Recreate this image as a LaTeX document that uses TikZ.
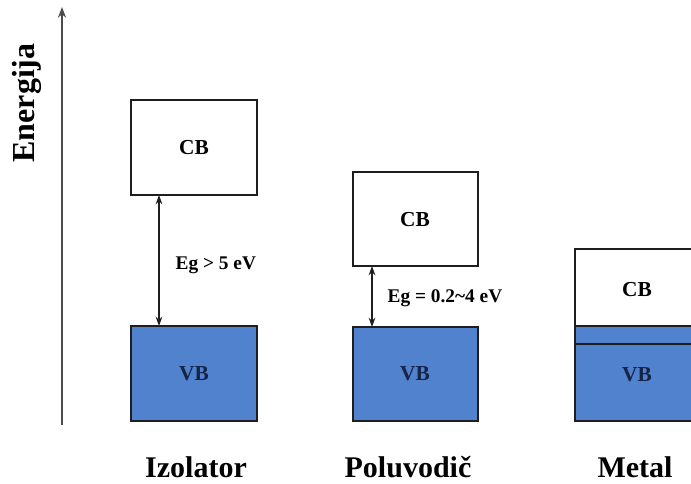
\documentclass[tikz,border=0pt]{standalone}
\usepackage{fontspec}
\setmainfont{Liberation Serif}
\usetikzlibrary{arrows.meta}
\definecolor{bandblue}{RGB}{80,130,206}
\definecolor{vbtext}{RGB}{22,36,72}
\definecolor{edge}{RGB}{30,30,30}
\begin{document}
\begin{tikzpicture}[x=0.75pt,y=-0.75pt,
  band/.style={draw=edge,line width=1.6pt},
  cbfill/.style={band,fill=white},
  vbfill/.style={band,fill=bandblue},
  bandlabel/.style={font=\bfseries\fontsize{16}{18}\selectfont},
  gaplabel/.style={font=\bfseries\fontsize{14.5}{16}\selectfont,anchor=west},
  matlabel/.style={font=\bfseries\fontsize{22.5}{26}\selectfont,anchor=base},
  gaparrow/.style={line width=1pt,draw=edge,{Stealth[length=7pt,width=5pt]}-{Stealth[length=7pt,width=5pt]}}]
\useasboundingbox (0,0) rectangle (691,484);
\clip (0,0) rectangle (691,484);
% energy axis
\coordinate (ax0) at (62,425);
\coordinate (ax1) at (62,7);
\draw[line width=1.6pt,draw=edge!80,-{Stealth[length=8pt,width=6pt]}] (ax0) -- (ax1);
\node[rotate=90,anchor=base,font=\bfseries\fontsize{24}{26}\selectfont] (en) at (34,103) {Energija};
% Izolator
\draw[cbfill] (131,100) rectangle (257,195);
\node[bandlabel] (icb) at (194,148) {CB};
\draw[vbfill] (131,326) rectangle (257,421);
\node[bandlabel,text=vbtext] (ivb) at (194,374) {VB};
\coordinate (ia) at (159,195);
\coordinate (ib) at (159,326);
\draw[gaparrow] (ia) -- (ib);
\node[gaplabel] (ieg) at (171,265) {Eg > 5 eV};
% Poluvodic
\draw[cbfill] (353,172) rectangle (478,266);
\node[bandlabel] (pcb) at (415,220) {CB};
\draw[vbfill] (353,327) rectangle (478,421);
\node[bandlabel,text=vbtext] (pvb) at (415,374) {VB};
\coordinate (pa) at (372,266);
\coordinate (pb) at (372,327);
\draw[gaparrow] (pa) -- (pb);
\node[gaplabel] (peg) at (383,298) {Eg = 0.2\textasciitilde4 eV};
% Metal
\fill[bandblue] (575,326) rectangle (700,421);
\draw[band] (575,249) rectangle (700,421);
\draw[band] (575,326) -- (700,326);
\draw[band] (575,344) -- (700,344);
\node[bandlabel] (mcb) at (637,290) {CB};
\node[bandlabel,text=vbtext] (mvb) at (637,375) {VB};
% material labels
\node[matlabel] (iz) at (196,477) {Izolator};
\node[matlabel] (po) at (408,477) {Poluvodič};
\node[matlabel] (me) at (635,477) {Metal};
\end{tikzpicture}
\end{document}
